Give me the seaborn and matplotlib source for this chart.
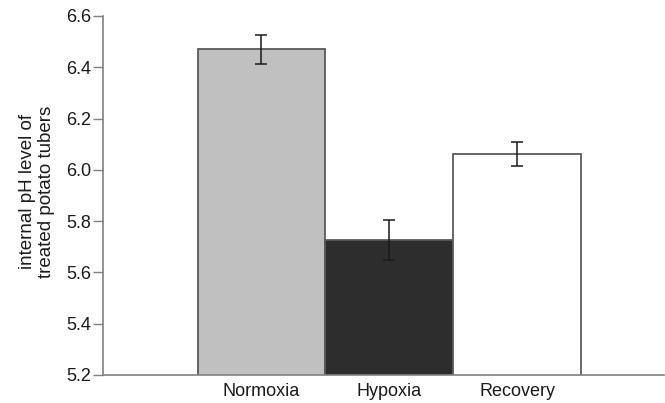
import matplotlib
matplotlib.use("Agg")
import matplotlib.pyplot as plt
import seaborn as sns
import pandas as pd

categories = ["Normoxia", "Hypoxia", "Recovery"]
ph_values = [6.47, 5.728, 6.062]
ph_errors = [0.057, 0.078, 0.046]
bar_colors = ["#c0c0c0", "#2d2d2d", "#ffffff"]
y_ticks = [5.2, 5.4, 5.6, 5.8, 6.0, 6.2, 6.4, 6.6]

sns.set_theme(style="white")
plt.rcParams["font.family"] = ["Liberation Sans", "DejaVu Sans"]

df = pd.DataFrame({"condition": categories, "ph": ph_values})

fig = plt.figure(figsize=(6.65, 4.03), dpi=100)
ax = fig.add_axes([0.1549, 0.0695, 0.8436, 0.8908])

sns.barplot(data=df, x="condition", y="ph", hue="condition", palette=bar_colors,
            width=1.0, edgecolor="#5a5a5a", linewidth=1.3, errorbar=None,
            legend=False, ax=ax, saturation=1)

centers = [p.get_x() + p.get_width() / 2 for p in ax.patches]
heights = [p.get_height() for p in ax.patches]
ax.errorbar(centers, heights, yerr=ph_errors, fmt="none", ecolor="#1a1a1a",
            elinewidth=1.1, capsize=4, capthick=1.1)

ax.set_ylim(5.2, 6.6)
ax.set_xlim(-1.24, 3.15)
ax.set_yticks(y_ticks)
ax.set_yticklabels([f"{v:.1f}" for v in y_ticks])
ax.set_xlabel("")
ax.set_ylabel("internal pH level of\ntreated potato tubers", fontsize=13.5, color="#1a1a1a",
              linespacing=1.12)
ax.yaxis.set_label_coords(-0.086, 0.51)

for side in ["top", "right"]:
    ax.spines[side].set_visible(False)
for side in ["left", "bottom"]:
    ax.spines[side].set_color("#808080")
    ax.spines[side].set_linewidth(1.2)

ax.tick_params(axis="y", which="both", left=True, length=7, width=1.0, color="#808080",
               labelsize=13, labelcolor="#1a1a1a", pad=1.5)
ax.tick_params(axis="x", which="both", bottom=False, length=0, labelsize=13,
               labelcolor="#1a1a1a", pad=5.5)

fig.savefig("out.png", dpi=100)
